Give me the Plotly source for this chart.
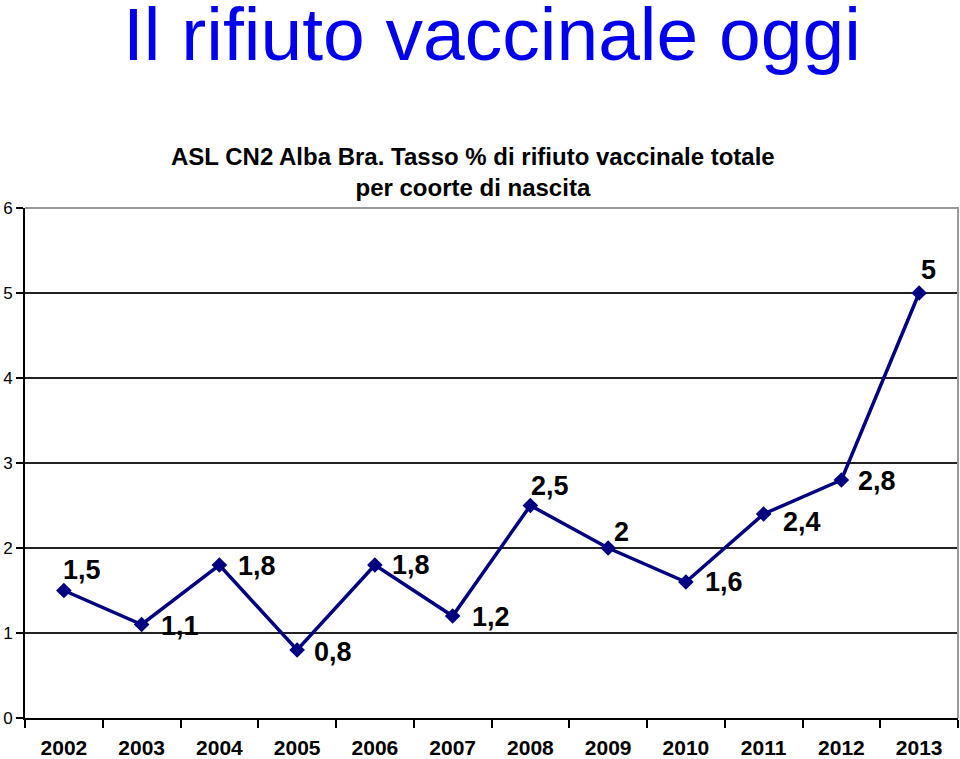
import plotly.graph_objects as go

years = ["2002", "2003", "2004", "2005", "2006", "2007", "2008", "2009", "2010", "2011", "2012", "2013"]
rates = [1.5, 1.1, 1.8, 0.8, 1.8, 1.2, 2.5, 2.0, 1.6, 2.4, 2.8, 5.0]
labels = ["1,5", "1,1", "1,8", "0,8", "1,8", "1,2", "2,5", "2", "1,6", "2,4", "2,8", "5"]
y_ticks = [0, 1, 2, 3, 4, 5, 6]

# label offsets in pixels (style)
label_dx = [-3, 17, 17, 15, 15, 17, -1, 4, 17, 17, 15, 0]
label_dy = [21, -1, -1, -2, 0, -1, 20, 16, 0, -8, -1, 23]

FONT = "Arial, Liberation Sans, sans-serif"
NAVY = "#000080"

fig = go.Figure()
fig.add_trace(go.Scatter(
    x=years, y=rates, mode="lines+markers",
    line=dict(color=NAVY, width=3.5),
    marker=dict(symbol="diamond", size=12, color=NAVY),
    hoverinfo="x+y", showlegend=False,
))

annotations = []
for i, (yv, t, dx, dy) in enumerate(zip(rates, labels, label_dx, label_dy)):
    annotations.append(dict(
        x=i, y=yv, xref="x", yref="y", text=f"<b>{t}</b>", showarrow=False,
        xanchor="left", yanchor="middle", xshift=dx, yshift=dy,
        font=dict(family=FONT, size=27, color="black"),
    ))

annotations.append(dict(
    x=0.5005, y=1.342, xref="paper", yref="paper", xanchor="center", yanchor="middle",
    text="Il rifiuto vaccinale oggi", showarrow=False,
    font=dict(family=FONT, size=75, color="#0000EE"),
))
annotations.append(dict(
    x=0.4805, y=1.0706, xref="paper", yref="paper", xanchor="center", yanchor="middle",
    text="<b>ASL CN2 Alba Bra. Tasso % di rifiuto vaccinale totale<br>per coorte di nascita</b>",
    showarrow=False, font=dict(family=FONT, size=24, color="black"),
))

fig.update_layout(
    width=960, height=759,
    margin=dict(l=25, r=2, t=208, b=41),
    paper_bgcolor="white", plot_bgcolor="white",
    font=dict(family=FONT, color="black"),
    annotations=annotations,
    shapes=[dict(type="path", xref="paper", yref="paper", path="M0,1 L1,1 L1,0",
                 line=dict(color="#999999", width=2), layer="above")],
)
fig.update_xaxes(
    type="category", categoryorder="array", categoryarray=years, automargin=False,
    showgrid=False, showline=True, linecolor="black", linewidth=2,
    ticks="outside", tickson="boundaries", ticklen=8, tickwidth=2, tickcolor="black",
    tickfont=dict(family=FONT, size=21, color="black"), ticklabelstandoff=10,
    tickprefix="<b>", ticksuffix="</b>", range=[-0.5, 11.5],
)
fig.update_yaxes(
    range=[0, 6], tickvals=y_ticks, automargin=False,
    showgrid=True, gridcolor="#222222", gridwidth=1.5,
    showline=True, linecolor="black", linewidth=2, zeroline=False,
    ticks="outside", ticklen=7, tickwidth=2, tickcolor="black",
    tickfont=dict(family=FONT, size=17, color="black"),
    tickprefix="<b>", ticksuffix="</b>",
)

fig.write_html("out.html")
